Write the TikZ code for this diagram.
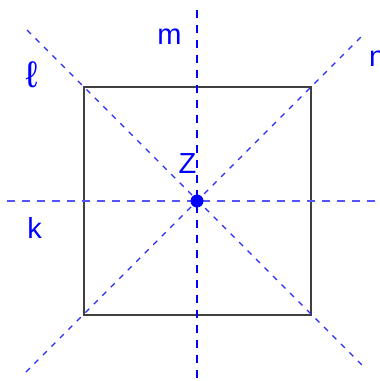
\documentclass[tikz,border=0pt]{standalone}
\usepackage{fontspec}
\setmainfont{Liberation Sans}
\definecolor{lblue}{RGB}{0,0,255}
\definecolor{hblue}{RGB}{85,85,255}
\definecolor{dblue}{RGB}{40,40,245}
\tikzset{
  lbl/.style={text=lblue, font=\fontsize{29}{29}\selectfont, anchor=base, inner sep=0pt},
  vline/.style={draw=lblue, line width=1.3pt, dash pattern=on 8pt off 7pt},
  hline/.style={draw=hblue, line width=1.8pt, dash pattern=on 8pt off 7pt},
  dline/.style={draw=dblue, line width=1.2pt, dash pattern=on 5.5pt off 6.5pt},
  sq/.style={draw=black!75, line width=1.2pt}
}
\begin{document}
\begin{tikzpicture}[x=1pt,y=-1pt]
\useasboundingbox (0,0) rectangle (380,381);
% square corners
\coordinate (A) at (84,87);
\coordinate (B) at (311,87);
\coordinate (C) at (311,315);
\coordinate (D) at (84,315);
\coordinate (Zc) at (197,201);
% line ends
\coordinate (vt) at (197,10);
\coordinate (vb) at (197,381);
\coordinate (hl) at (7,201);
\coordinate (hr) at (380,201);
\coordinate (lt) at (27,30);
\coordinate (lb) at (365,368);
\coordinate (nt) at (365,33);
\coordinate (nb) at (26,372);
\draw[sq] (A) -- (B) -- (C) -- (D) -- cycle;
\draw[hline] (hl) -- (hr);
\draw[dline] (lt) -- (lb);
\draw[dline] (nb) -- (nt);
\draw[vline] (vt) -- (vb);
\fill[lblue] (Zc) circle (6.5);
\node[lbl] (m) at (169.5,44) {m};
\node[lbl, anchor=base west] (n) at (369,66) {n};
\node[lbl] (k) at (34.5,238) {k};
\node[lbl] (z) at (187.5,173) {Z};
\node[lbl, font=\fontsize{37}{37}\selectfont] (l) at (31.5,87) {ℓ};
\end{tikzpicture}
\end{document}
